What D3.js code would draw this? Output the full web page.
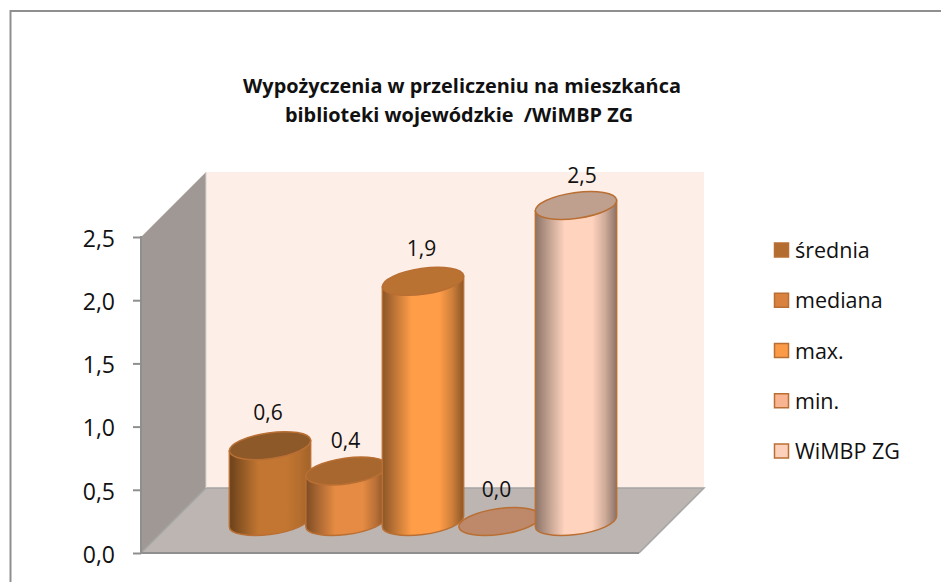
<!DOCTYPE html>
<html><head><meta charset="utf-8">
<script src="https://cdn.jsdelivr.net/npm/d3@7"></script>
<style>html,body{margin:0;padding:0;background:#fff}svg{display:block;font-family:"Open Sans",sans-serif}</style>
</head><body><svg id="c" width="941" height="582"></svg>
<script>
const categories = ["średnia","mediana","max.","min.","WiMBP ZG"];
const values = [0.6,0.4,1.9,0.0,2.5];
const valueLabels = ["0,6","0,4","1,9","0,0","2,5"];
const tickValues = [0,0.5,1,1.5,2,2.5];
const tickLabels = ["0,0","0,5","1,0","1,5","2,0","2,5"];
const titleLines = ["Wypożyczenia w przeliczeniu na mieszkańca","biblioteki wojewódzkie  /WiMBP ZG"];
const bodyColors = ["#c27631","#e58b43","#ff9d48","#f9b592","#ffd3be"];
const topColors = ["#8d5929","#a96730","#b97232","#bd896a","#bfa08e"];
const swatchColors = ["#b46d30","#d98240","#fb9a47","#f9b592","#fdd0bb"];
const edge = "#b96f33";

const svg = d3.select("#c");
const defs = svg.append("defs");
const y = d3.scaleLinear().domain([0,2.5]).range([553,237]);
const x = d3.scalePoint().domain(categories).range([270,576]);
const depthX = 65, depthY = 65;
const left = 141, right = 639;
const rx = 41, ry = 12.9, rot = -8;
const baseY = y(0) - 31.5;
const h = v => y(0) - y(v);

// frame
svg.append("path").attr("d","M10.5,582V11H941").attr("fill","none").attr("stroke","#8f8f8f").attr("stroke-width",2);

// walls
svg.append("rect").attr("x",left+depthX).attr("y",y(2.5)-depthY).attr("width",right-left).attr("height",h(2.5)).attr("fill","#fdeee7");
svg.append("path").attr("fill","#a09894").attr("d",`M${left},${y(0)}L${left},${y(2.5)}L${left+depthX},${y(2.5)-depthY}L${left+depthX},${y(0)-depthY}Z`);
svg.append("path").attr("fill","#bdb5b1").attr("d",`M${left},${y(0)}L${left+depthX},${y(0)-depthY}L${right+depthX},${y(0)-depthY}L${right},${y(0)}Z`);
svg.append("path").attr("fill","none").attr("stroke","#a5a5a5").attr("stroke-width",1.5)
  .attr("d",`M${left},${y(0)}L${left+depthX},${y(0)-depthY}L${right+depthX},${y(0)-depthY}L${right},${y(0)}`);
svg.append("path").attr("fill","none").attr("stroke","#d8d4d2").attr("stroke-width",1)
  .attr("d",`M${left},${y(2.5)}L${left+depthX},${y(2.5)-depthY}V${y(0)-depthY}`);
svg.append("line").attr("x1",left).attr("x2",right).attr("y1",y(0)).attr("y2",y(0)).attr("stroke","#8f8f8f").attr("stroke-width",2);

// axis
const axis = d3.axisLeft(y).tickValues(tickValues).tickSize(8).tickPadding(18).tickFormat((d,i)=>tickLabels[i]);
const ag = svg.append("g").attr("transform",`translate(${left},0)`).call(axis);
ag.selectAll("path,line").attr("stroke","#8f8f8f").attr("stroke-width",2);
ag.select("path").attr("d",`M0,${y(2.5)-1}V${y(0)+1}`);
ag.selectAll("text").attr("font-size",23).attr("fill","#111").attr("font-family",'"Open Sans",sans-serif').attr("dy","0.4em");

// cylinders
const th = rot*Math.PI/180, s = Math.sin(th), c = Math.cos(th);
const dx = Math.sqrt(rx*rx*c*c+ry*ry*s*s);
const dy = (rx*rx-ry*ry)*Math.abs(s*c)/dx;
const arcCmd = (sweep,ex,ey)=>`A${rx},${ry} ${rot} 0 ${sweep} ${ex},${ey}`;
categories.forEach((cat,i)=>{
  const g = defs.append("linearGradient").attr("id","g"+i);
  const col = d3.color(bodyColors[i]);
  [[0,col.darker(1.7)],[0.1,col.darker(1.1)],[0.24,col.darker(0.45)],[0.36,col],[0.7,col],[0.86,col.darker(i===0?0.2:0.6)],[1,col.darker(i===0?0.5:1.7)]]
    .forEach(([o,cl])=>g.append("stop").attr("offset",o).attr("stop-color",cl));
});
const bars = svg.append("g").selectAll("g").data(values).join("g");
bars.each(function(v,i){
  const gg = d3.select(this), cx = x(categories[i]), top = baseY-h(v);
  if(v>0){
    gg.append("path").attr("fill",`url(#g${i})`).attr("stroke",edge).attr("stroke-width",1.5)
      .attr("d",`M${cx-dx},${top+dy}L${cx-dx},${baseY+dy}${arcCmd(0,cx+dx,baseY-dy)}L${cx+dx},${top-dy}Z`);
  }
  gg.append("ellipse").attr("rx",rx).attr("ry",ry).attr("fill",topColors[i]).attr("stroke",edge).attr("stroke-width",1.5)
    .attr("transform",`translate(${cx},${top}) rotate(${rot})`);
});

// value labels
const labelDx = [-2,-1,-1.5,-3,6];
const labelDy = [26,23,25,25,23];
svg.append("g").selectAll("text").data(values).join("text")
  .attr("x",(v,i)=>x(categories[i])+labelDx[i])
  .attr("y",(v,i)=>baseY-h(v)-labelDy[i])
  .attr("text-anchor","middle").attr("font-size",21).attr("fill","#111")
  .text((v,i)=>valueLabels[i]);

// title
svg.append("g").selectAll("text").data(titleLines).join("text")
  .attr("x",(d,i)=>i?459:462).attr("y",(d,i)=>93+i*29)
  .attr("text-anchor","middle").attr("font-size",19.9).attr("font-weight",700).attr("fill","#111")
  .style("white-space","pre").text(d=>d);

// legend
const ly = d3.scalePoint().domain(categories).range([250,451]);
const lg = svg.append("g").selectAll("g").data(categories).join("g").attr("transform",d=>`translate(774,${ly(d)})`);
lg.append("rect").attr("x",0.5).attr("y",-7).attr("width",14).attr("height",14).attr("fill",(d,i)=>swatchColors[i]).attr("stroke",edge).attr("stroke-width",1.5);
lg.append("text").attr("x",21).attr("y",8).attr("font-size",21.5).attr("fill","#111").text(d=>d);
</script></body></html>
